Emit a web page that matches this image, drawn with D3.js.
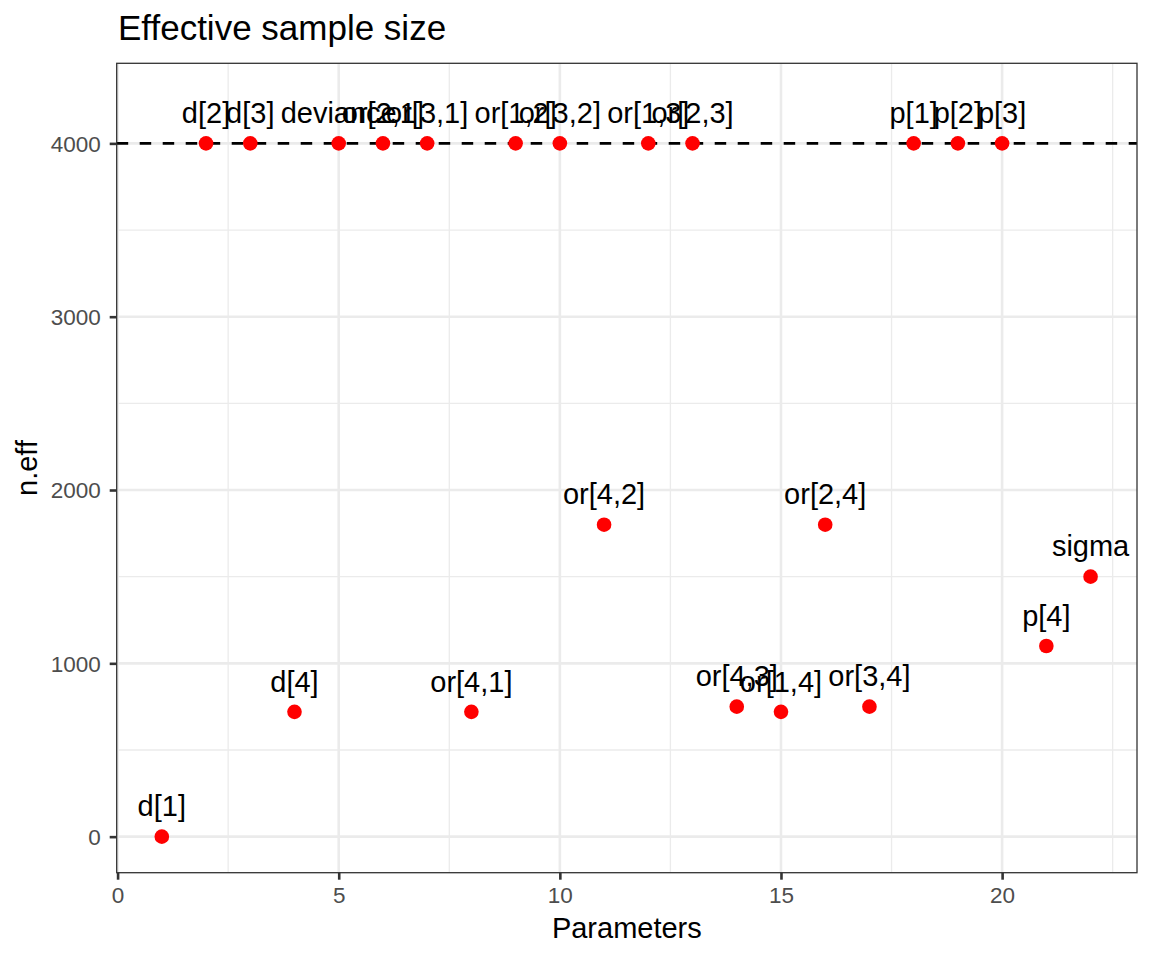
<!DOCTYPE html>
<html>
<head>
<meta charset="utf-8">
<script src="https://cdn.jsdelivr.net/npm/d3@7"></script>
<style>
  html, body { margin: 0; padding: 0; background: #fff; }
  svg text { font-family: "Liberation Sans", Arial, Helvetica, sans-serif; }
</style>
</head>
<body>
<svg id="chart" width="1152" height="960"></svg>
<script>
// ---- data ----
const parameters = ["d[1]","d[2]","d[3]","d[4]","deviance","or[2,1]","or[3,1]","or[4,1]",
  "or[1,2]","or[3,2]","or[4,2]","or[1,3]","or[2,3]","or[4,3]","or[1,4]","or[2,4]","or[3,4]",
  "p[1]","p[2]","p[3]","p[4]","sigma"];
const neff = [0, 4000, 4000, 720, 4000, 4000, 4000, 720,
  4000, 4000, 1800, 4000, 4000, 750, 720, 1800, 750,
  4000, 4000, 4000, 1100, 1500];
const xTicks = [0, 5, 10, 15, 20];
const yTicks = [0, 1000, 2000, 3000, 4000];
const xMinor = [2.5, 7.5, 12.5, 17.5, 22.5];
const yMinor = [500, 1500, 2500, 3500];
const refLine = 4000;
const labelNudge = 175;

// ---- layout ----
const svg = d3.select("#chart");
const panel = { left: 116.7, right: 1137, top: 63.3, bottom: 872.7 };
const x = d3.scaleLinear().domain([-0.02, 23.05]).range([panel.left, panel.right]);
const y = d3.scaleLinear().domain([-208, 4462]).range([panel.bottom, panel.top]);

const data = parameters.map((p, i) => ({ idx: i + 1, name: p, v: neff[i] }));

// background
svg.append("rect").attr("x", panel.left).attr("y", panel.top)
  .attr("width", panel.right - panel.left).attr("height", panel.bottom - panel.top)
  .attr("fill", "#fff");

// minor grid
const grid = svg.append("g");
grid.selectAll(".xmin").data(xMinor).join("line")
  .attr("x1", d => x(d)).attr("x2", d => x(d))
  .attr("y1", panel.top).attr("y2", panel.bottom)
  .attr("stroke", "#EBEBEB").attr("stroke-width", 1.3);
grid.selectAll(".ymin").data(yMinor).join("line")
  .attr("y1", d => y(d)).attr("y2", d => y(d))
  .attr("x1", panel.left).attr("x2", panel.right)
  .attr("stroke", "#EBEBEB").attr("stroke-width", 1.3);
// major grid
grid.selectAll(".xmaj").data(xTicks).join("line")
  .attr("x1", d => x(d)).attr("x2", d => x(d))
  .attr("y1", panel.top).attr("y2", panel.bottom)
  .attr("stroke", "#EBEBEB").attr("stroke-width", 2.6);
grid.selectAll(".ymaj").data(yTicks).join("line")
  .attr("y1", d => y(d)).attr("y2", d => y(d))
  .attr("x1", panel.left).attr("x2", panel.right)
  .attr("stroke", "#EBEBEB").attr("stroke-width", 2.6);

// dashed reference line
svg.append("line")
  .attr("x1", panel.left).attr("x2", panel.right)
  .attr("y1", y(refLine)).attr("y2", y(refLine))
  .attr("stroke", "#000").attr("stroke-width", 2.7)
  .attr("stroke-dasharray", "11.5,11.5");

// points
svg.append("g").selectAll("circle").data(data).join("circle")
  .attr("cx", d => x(d.idx)).attr("cy", d => y(d.v))
  .attr("r", 7.3).attr("fill", "#FF0000");

// labels
svg.append("g").selectAll("text").data(data).join("text")
  .attr("x", d => x(d.idx)).attr("y", d => y(d.v + labelNudge))
  .attr("dy", "0.35em")
  .attr("text-anchor", "middle")
  .attr("font-size", 29)
  .attr("fill", "#000")
  .text(d => d.name);

// panel border
svg.append("rect").attr("x", panel.left).attr("y", panel.top)
  .attr("width", panel.right - panel.left).attr("height", panel.bottom - panel.top)
  .attr("fill", "none").attr("stroke", "#333333").attr("stroke-width", 1.3);

// axes
const xAxis = svg.append("g").attr("transform", `translate(0,${panel.bottom})`)
  .call(d3.axisBottom(x).tickValues(xTicks).tickSize(7).tickPadding(4).tickFormat(d3.format("d")));
const yAxis = svg.append("g").attr("transform", `translate(${panel.left},0)`)
  .call(d3.axisLeft(y).tickValues(yTicks).tickSize(7).tickPadding(5).tickFormat(d3.format("d")));
[xAxis, yAxis].forEach(g => {
  g.select(".domain").remove();
  g.selectAll(".tick line").attr("stroke", "#333333").attr("stroke-width", 2.6);
  g.selectAll(".tick text").attr("fill", "#4D4D4D").attr("font-size", 22.5)
    .attr("font-family", "\"Liberation Sans\", Arial, Helvetica, sans-serif");
});
xAxis.selectAll(".tick text").attr("dy", null).attr("y", 30);
yAxis.selectAll(".tick text").attr("dy", "0.35em").attr("x", -16);

// axis titles
svg.append("text").attr("x", (panel.left + panel.right) / 2).attr("y", 937.5)
  .attr("text-anchor", "middle").attr("font-size", 29).attr("fill", "#000")
  .text("Parameters");
svg.append("text")
  .attr("transform", `translate(37,${(panel.top + panel.bottom) / 2}) rotate(-90)`)
  .attr("text-anchor", "middle").attr("font-size", 29).attr("fill", "#000")
  .text("n.eff");

// title
svg.append("text").attr("x", 118).attr("y", 39.5)
  .attr("font-size", 35).attr("fill", "#000")
  .text("Effective sample size");
</script>
</body>
</html>
